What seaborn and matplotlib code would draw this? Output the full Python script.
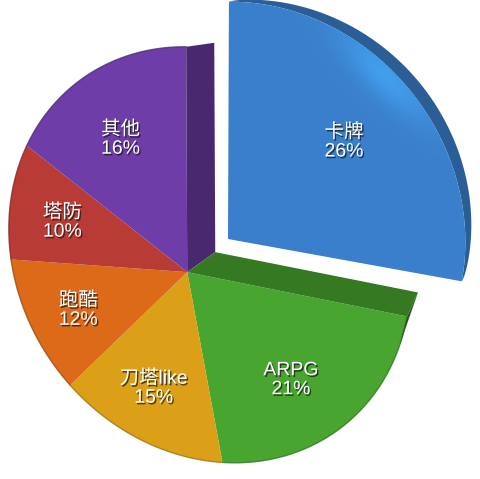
import numpy as np
import matplotlib
matplotlib.use("Agg")
import matplotlib.pyplot as plt
import matplotlib.patheffects as pe
from matplotlib.patches import Polygon
import seaborn as sns

# ---- data ----
categories = ["卡牌", "ARPG", "刀塔like", "跑酷", "塔防", "其他"]
shares = [26, 21, 15, 12, 10, 16]

# ---- style ----
face_colors = ["#3a7fcb", "#48a52f", "#dba018", "#dc6a18", "#b93b35", "#6f3da8"]
label_fracs = [0.68, 0.69, 0.67, 0.67, 0.69, 0.68]

sns.set_theme(style="white")
plt.rcParams["font.family"] = ["Liberation Sans", "Noto Sans CJK SC", "DejaVu Sans"]
palette = sns.color_palette(face_colors)

# perspective of the pie: unit circle -> picture pixels (layout only)
ctrl_deg = np.array([0, 302.4, 266.4, 223.2, 169.2, 93.6])
ctrl_px = np.array([[187, 47], [26, 146], [11, 259], [71, 385], [222, 463], [407, 316]], float)
centre_px = np.array([187.0, 272.0])


def unit(deg, r=1.0):
    a = np.radians(deg)
    return r * np.sin(a), r * np.cos(a)


src = np.vstack([np.column_stack(unit(ctrl_deg)), [[0, 0]]])
dst = np.vstack([ctrl_px, centre_px])
rows, rhs = [], []
for (x, y), (u, v) in zip(src, dst):
    rows.append([x, y, 1, 0, 0, 0, -u * x, -u * y]); rhs.append(u)
    rows.append([0, 0, 0, x, y, 1, -v * x, -v * y]); rhs.append(v)
H = np.append(np.linalg.lstsq(np.array(rows), np.array(rhs), rcond=None)[0], 1).reshape(3, 3)


def project(deg, r=1.0):
    x, y = unit(np.asarray(deg, float), r)
    p = H @ np.vstack([x, y, np.ones_like(x)])
    return (p[:2] / p[2]).T


# exploded slice: moved to its own corner and slightly nearer to the viewer
blue_corner = np.array([228.0, 239.0])
blue_matrix = np.array([[1.0654, -0.0089], [-0.0197, 1.053]])


def explode(p):
    return blue_corner + (p - project([0.0], 0.0)) @ blue_matrix.T


def darker(c, f):
    return tuple(np.array(c) * f)


fig = plt.figure(figsize=(4.8, 4.79), dpi=100)
ax = fig.add_axes([0, 0, 1, 1])
ax.set_xlim(0, 480)
ax.set_ylim(479, 0)
ax.axis("off")

edges = np.concatenate([[0], np.cumsum(shares)]) * 3.6

# slices other than the exploded one
for i in range(1, len(shares)):
    arc = project(np.linspace(edges[i], edges[i + 1], 80))
    poly = np.vstack([project([0.0], 0.0), arc])
    ax.fill(poly[:, 0], poly[:, 1], color=palette[i], lw=0, zorder=2)
    ax.plot(arc[:, 0], arc[:, 1], color=darker(palette[i], 0.72), lw=1.0, alpha=0.8, zorder=2.5)

# side walls of the gap left by the exploded slice
c0 = project([0.0], 0.0)[0]
top = project([edges[-1]])[0]
right = project([edges[1]])[0]
back_c = c0 + np.array([28, -20])
wall_p = np.array([c0, top, top + np.array([28, -4]), back_c])
ax.add_patch(Polygon(wall_p, closed=True, fc=darker(palette[5], 0.66), lw=0, zorder=3))
wall_g = np.array([c0, right, right + np.array([11, -24]), back_c])
ax.add_patch(Polygon(wall_g, closed=True, fc=darker(palette[1], 0.74), lw=0, zorder=3))
sliver = np.vstack([right, right + np.array([11, -24]), project([edges[1] + 8])])
ax.add_patch(Polygon(sliver, closed=True, fc=darker(palette[1], 0.55), lw=0, zorder=3))

# exploded slice
deg = np.linspace(edges[0], edges[1], 120)
arc = explode(project(deg))
s = np.sqrt(np.sin(np.pi * (deg - edges[0]) / (edges[1] - edges[0])))
outer = arc + np.column_stack([10 * s, -7 * s])
wall = np.vstack([arc, outer[::-1]])
ax.add_patch(Polygon(wall, closed=True, fc=darker(palette[0], 0.74), lw=0, zorder=4))
poly = np.vstack([blue_corner, arc])
face = Polygon(poly, closed=True, fc=palette[0], lw=0, zorder=5)
ax.add_patch(face)

# soft highlight along the rim of the exploded slice
yy, xx = np.mgrid[0:479, 0:480]
along = ((xx - 385) + (yy - 75)) / np.sqrt(2)
across = ((xx - 385) - (yy - 75)) / np.sqrt(2)
glow = np.exp(-((along / 62.0) ** 2 + (across / 20.0) ** 2))
rgba = np.zeros((479, 480, 4))
rgba[..., :3] = matplotlib.colors.to_rgb("#45a6f5")
rgba[..., 3] = 0.8 * glow
im = ax.imshow(rgba, extent=(0, 480, 479, 0), zorder=5.5, aspect="auto")
im.set_clip_path(face)
ax.set_xlim(0, 480)
ax.set_ylim(479, 0)

# labels
shadow = [pe.SimplePatchShadow(offset=(1.0, -1.2), shadow_rgbFace="k", alpha=0.75), pe.Normal()]
for i, (name, val) in enumerate(zip(categories, shares)):
    mid = (edges[i] + edges[i + 1]) / 2
    p = project([mid], label_fracs[i])
    if i == 0:
        p = explode(p)
    ax.text(p[0, 0], p[0, 1], f"{name}\n{val}%", color="white", fontsize=14,
            ha="center", va="center", linespacing=1.15, zorder=7, path_effects=shadow)

fig.savefig("out.png", dpi=100, facecolor="white")
